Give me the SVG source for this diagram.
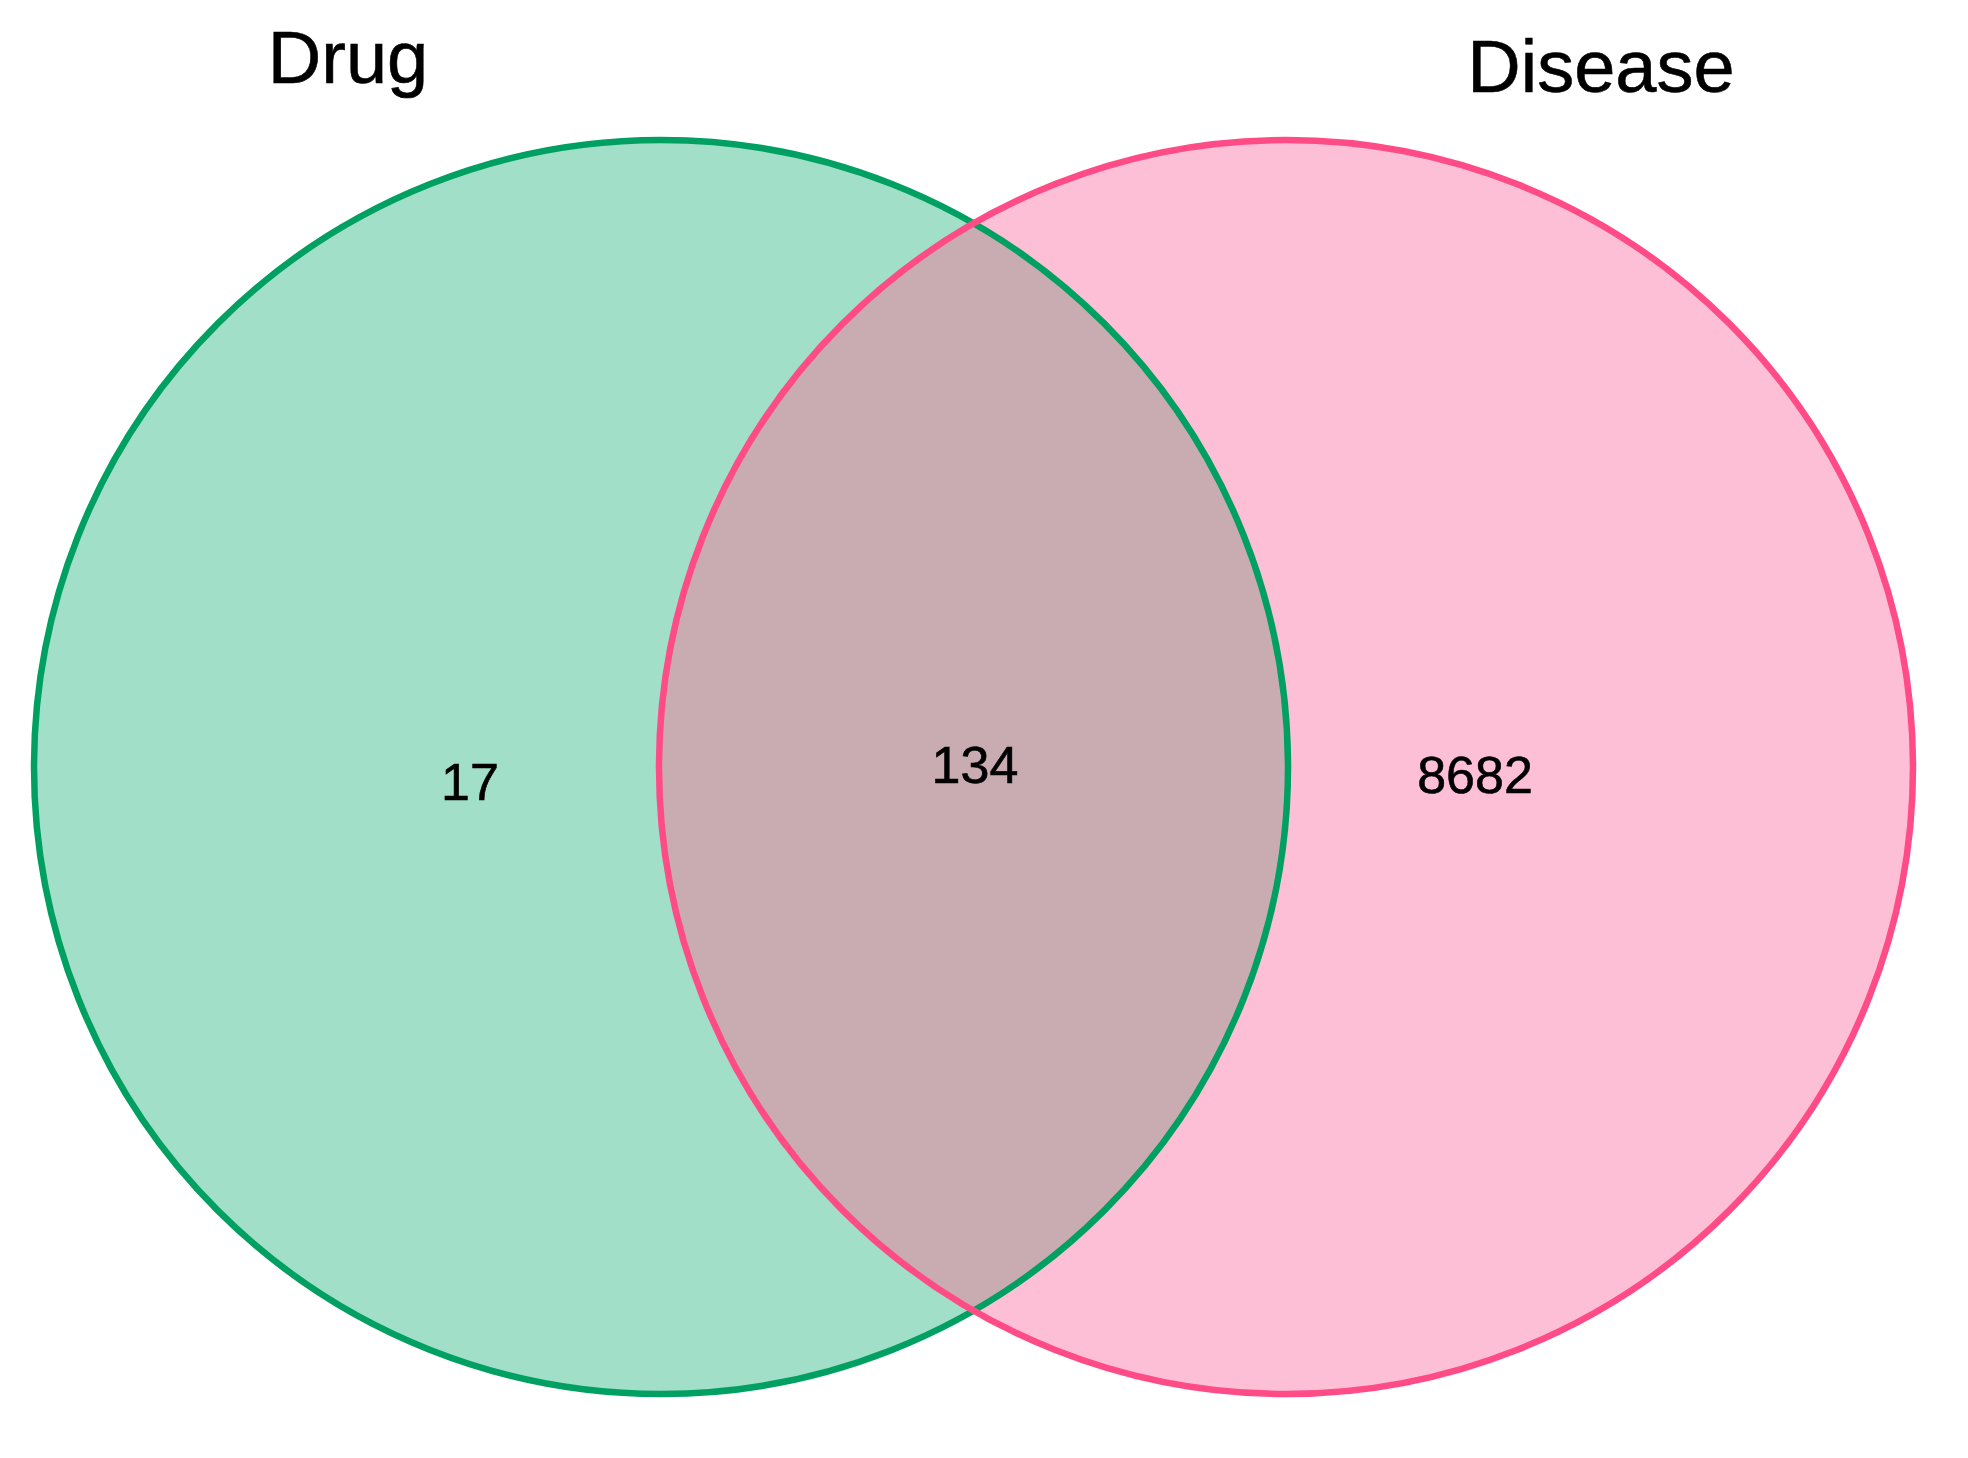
<svg xmlns="http://www.w3.org/2000/svg" width="1968" height="1458" viewBox="0 0 1968 1458">
<style>
.lbl{font-family:"Liberation Sans",Arial,sans-serif;fill:#000;text-anchor:middle;stroke:#000;stroke-width:0.6}
.title{font-size:74px}
.num{font-size:52px}
</style>
<rect width="1968" height="1458" fill="#fff"/>
<g id="fills">
<circle cx="661" cy="767" r="627" fill="#a1dfc8"/>
<circle cx="1286" cy="767" r="627" fill="#fdbfd6"/>
<path d="M973.5 223.8 A627 627 0 0 1 973.5 1310.2 A627 627 0 0 1 973.5 223.8 Z" fill="#c9acb1"/>
</g>
<g id="drug">
<circle cx="661" cy="767" r="627" fill="none" stroke="#00a062" stroke-width="6.5"/>
<text class="lbl title" x="348" y="83">Drug</text>
<text class="lbl num" x="470" y="800">17</text>
</g>
<g id="disease">
<circle cx="1286" cy="767" r="627" fill="none" stroke="#ff4b86" stroke-width="6.5"/>
<text class="lbl title" x="1601" y="92">Disease</text>
<text class="lbl num" x="1475" y="793">8682</text>
</g>
<g id="overlap">
<text class="lbl num" x="975" y="783">134</text>
</g>
<g id="connectors"></g>
</svg>
